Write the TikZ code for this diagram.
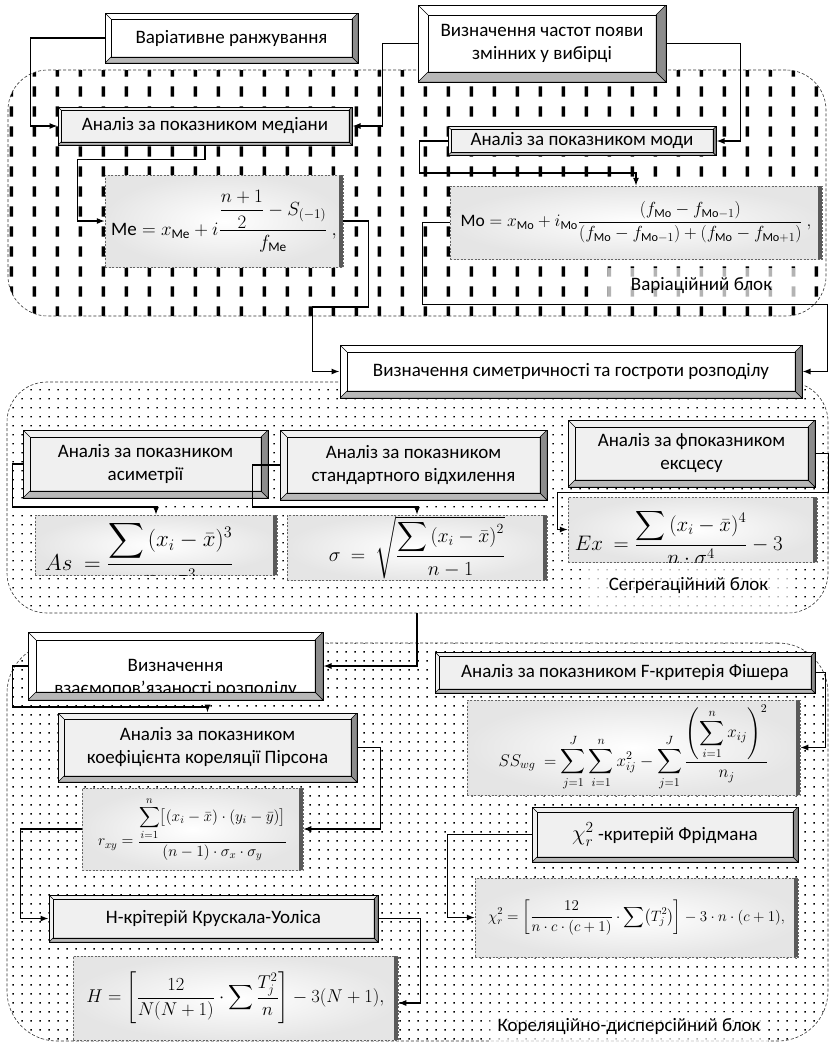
\RequirePackage{fix-cm}
\documentclass[tikz,border=0pt]{standalone}
\usepackage{amsmath}
\usepackage{fontspec}
\setmainfont{Carlito}
\usetikzlibrary{patterns,arrows.meta}

% fill patterns of the three blocks
\pgfdeclarepatternformonly{vbars}{\pgfpointorigin}{\pgfpoint{23.3pt}{19.5pt}}{\pgfpoint{23.3pt}{19.5pt}}%
  {\pgfpathrectangle{\pgfpoint{10pt}{4.5pt}}{\pgfpoint{3.4pt}{10.5pt}}\pgfusepath{fill}}
\pgfdeclarepatternformonly{sqdots}{\pgfpointorigin}{\pgfpoint{9.2pt}{9.2pt}}{\pgfpoint{9.2pt}{9.2pt}}%
  {\pgfpathrectangle{\pgfpoint{3.8pt}{3.8pt}}{\pgfpoint{1.6pt}{1.6pt}}\pgfusepath{fill}}

\newcommand\ppbox{path picture bounding box}
\newcommand\bevelfaces[1]{%
  \fill[black!28, draw=black, line width=0.4pt] (\ppbox.south west) -- (\ppbox.south east)
    -- ([shift={(-#1,#1)}]\ppbox.south east) -- ([shift={(#1,#1)}]\ppbox.south west) -- cycle;
  \fill[black!45, draw=black, line width=0.4pt] (\ppbox.south east) -- (\ppbox.north east)
    -- ([shift={(-#1,-#1)}]\ppbox.north east) -- ([shift={(-#1,#1)}]\ppbox.south east) -- cycle;
  \draw[line width=0.4pt] ([shift={(#1,#1)}]\ppbox.south west) rectangle ([shift={(-#1,-#1)}]\ppbox.north east);
  \draw[line width=0.4pt] (\ppbox.north west) -- ([shift={(#1,-#1)}]\ppbox.north west);
}
\newcommand\formulabar{%
  \fill[black!65] ([xshift=-4pt]\ppbox.north east) rectangle (\ppbox.south east);
}

\tikzset{
  boxfont/.style={font=\fontsize{19}{23}\selectfont},
  bevelbox/.style={draw=black, line width=1pt, inner sep=0pt, align=center, boxfont,
    path picture={\bevelfaces{#1}}},
  whitebox/.style={bevelbox=#1, fill=white},
  graybox/.style={bevelbox=#1, fill=gray!12},
  formulabox/.style={draw=black!60, line width=0.5pt, dash pattern=on 2pt off 1.5pt, inner sep=0pt,
    inner color=white, outer color=gray!20, path picture={\formulabar}},
  region/.style={draw=black!80, line width=0.6pt, dash pattern=on 3pt off 2pt,
    rounded corners=40pt, inner sep=0pt},
  blocklabel/.style={fill=white, fill opacity=0.7, text opacity=1, boxfont, inner sep=0pt},
  conn/.style={line width=1.1pt, -{Latex[length=8pt,width=6pt]}},
}

\begin{document}
\begin{tikzpicture}[x=1pt,y=-1pt]
  \useasboundingbox (0,0) rectangle (830,1042);

  % blocks
  \node[region, pattern=vbars, minimum width=818pt, minimum height=246pt] (varblock) at (417,193) {};
  \node[region, pattern=sqdots, minimum width=821pt, minimum height=231pt] (segblock) at (417.5,497.5) {};
  \node[region, rounded corners=50pt, pattern=sqdots, minimum width=821pt, minimum height=398pt] (corblock) at (417.5,842) {};

  \node[blocklabel, minimum width=187pt, minimum height=35pt] (varlabel) at (701.5,285.5) {Варіаційний блок};
  \node[blocklabel, minimum width=207pt, minimum height=42pt] (seglabel) at (688.5,586) {Сегрегаційний блок};
  \node[blocklabel, minimum width=278pt, minimum height=30pt] (corlabel) at (629,1027) {Кореляційно-дисперсійний блок};

  % variation block
  \node[whitebox=6pt, minimum width=253pt, minimum height=50pt] (rank) at (231.5,38) {Варіативне ранжування};
  \node[whitebox=10pt, minimum width=248pt, minimum height=77pt] (freq) at (542,43.5) {Визначення частот появи\\змінних у вибірці};
  \node[graybox=3pt, minimum width=294pt, minimum height=38pt] (median) at (205,126) {Аналіз за показником медіани};
  \node[graybox=3pt, minimum width=268pt, minimum height=29pt] (mode) at (582,141) {Аналіз за показником моди};

  \node[formulabox, minimum width=238pt, minimum height=92pt, font=\fontsize{19}{23}\selectfont] (fMe) at (224,221)
    {$\mathrm{Me}=x_{\mathrm{Me}}+i\dfrac{\dfrac{n+1}{2}-S_{(-1)}}{f_{\mathrm{Me}}}\ ,$};
  \node[formulabox, minimum width=372pt, minimum height=73pt, font=\fontsize{17.5}{21}\selectfont] (fMo) at (636,222.5)
    {$\mathrm{Mo}=x_{\mathrm{Mo}}+i_{\mathrm{Mo}}\dfrac{(f_{\mathrm{Mo}}-f_{\mathrm{Mo}-1})}{(f_{\mathrm{Mo}}-f_{\mathrm{Mo}-1})+(f_{\mathrm{Mo}}-f_{\mathrm{Mo}+1})}\ ,$};

  % segregation block
  \node[whitebox=7pt, minimum width=462pt, minimum height=53pt] (sym) at (571,371.5) {Визначення симетричності та гостроти розподілу};
  \node[graybox=7pt, minimum width=245pt, minimum height=68pt] (asym) at (145.5,464) {Аналіз за показником\\асиметрії};
  \node[graybox=7pt, minimum width=267pt, minimum height=70pt] (stdev) at (413.5,465) {Аналіз за показником\\стандартного відхилення};
  \node[graybox=7pt, minimum width=247pt, minimum height=67pt] (excess) at (691.5,453.5) {Аналіз за фпоказником\\ексцесу};

  \node[formulabox, minimum width=242pt, minimum height=60pt] (fAs) at (156,545) {};
  \begin{scope}
    \clip (fAs.south west) rectangle (fAs.north east);
    \node[anchor=base west, inner sep=0pt, font=\fontsize{23}{27}\selectfont] (fAstext) at ([shift={(10pt,-25pt)}]fAs.west)
      {$As\ =\dfrac{\displaystyle\sum\,(x_i-\bar{x})^3}{n\cdot\sigma^3}$};
  \end{scope}
  \node[formulabox, minimum width=260pt, minimum height=65pt, font=\fontsize{20}{24}\selectfont] (fSig) at (417,547.5)
    {$\sigma\ =\ \sqrt{\dfrac{\displaystyle\sum\,(x_i-\bar{x})^2}{n-1}}$};
  \node[formulabox, minimum width=249pt, minimum height=65pt] (fEx) at (692.5,529.5) {};
  \begin{scope}
    \clip (fEx.south west) rectangle (fEx.north east);
    \node[anchor=base west, inner sep=0pt, font=\fontsize{21}{25}\selectfont] (fExtext) at ([shift={(7pt,-21pt)}]fEx.west)
      {$Ex\ =\dfrac{\displaystyle\sum\,(x_i-\bar{x})^4}{n\cdot\sigma^4}-3$};
  \end{scope}

  % correlation-dispersion block
  \node[whitebox=8pt, minimum width=295pt, minimum height=68pt] (relat) at (175.5,666) {};
  \begin{scope}
    \clip ([shift={(8pt,8pt)}]relat.south west) rectangle ([shift={(-8pt,-8pt)}]relat.north east);
    \node[boxfont, align=center] (relattext) at ([yshift=-12pt]relat.center) {Визначення\\взаємопов’язаності розподілу};
  \end{scope}
  \node[graybox=4pt, minimum width=380pt, minimum height=41pt] (fisher) at (625,672.5) {Аналіз за показником F-критерія Фішера};
  \node[graybox=6pt, minimum width=299pt, minimum height=69pt] (pearson) at (207.5,747.5) {Аналіз за показником\\коефіцієнта кореляції Пірсона};
  \node[graybox=5pt, minimum width=266pt, minimum height=55pt] (fried) at (665,834.5) {{\fontsize{22}{24}\selectfont$\chi_r^2$} -критерій Фрідмана};
  \node[graybox=4pt, minimum width=329pt, minimum height=47pt] (kruskal) at (213.5,918.5) {Н-крітерій Крускала-Уоліса};

  \node[formulabox, minimum width=333pt, minimum height=95pt, font=\fontsize{17}{20}\selectfont] (fSS) at (633.5,747.5)
    {$\displaystyle SS_{wg}\ =\sum_{j=1}^{J}\sum_{i=1}^{n}x_{ij}^2-\sum_{j=1}^{J}\frac{\left(\displaystyle\sum_{i=1}^{n}x_{ij}\right)^2}{n_j}$};
  \node[formulabox, minimum width=221pt, minimum height=82pt, font=\fontsize{15.5}{19}\selectfont] (fR) at (192.5,829)
    {$\displaystyle r_{xy}=\frac{\displaystyle\sum_{i=1}^{n}\bigl[(x_i-\bar{x})\cdot(y_i-\bar{y})\bigr]}{(n-1)\cdot\sigma_x\cdot\sigma_y}$};
  \node[formulabox, minimum width=323pt, minimum height=79pt, font=\fontsize{15}{18}\selectfont] (fChi) at (636.5,917.5)
    {$\displaystyle \chi_r^2=\left[\frac{12}{n\cdot c\cdot(c+1)}\cdot\sum\bigl(T_j^2\bigr)\right]-3\cdot n\cdot(c+1),$};
  \node[formulabox, minimum width=325pt, minimum height=84pt, font=\fontsize{18.5}{22}\selectfont] (fH) at (235.5,998)
    {$\displaystyle H=\left[\frac{12}{N(N+1)}\cdot\sum\frac{T_j^2}{n}\right]-3(N+1),$};

  % connectors
  \draw[conn] (rank.west) -- ++(-74,0) |- (median.west);
  \draw[conn] (freq.west) -- ++(-35,0) |- (median.east);
  \draw[conn] (freq.east) -- ++(74,0) |- (mode.east);
  \draw[conn] (median.south) -- ++(0,14) -| ([xshift=-27pt]fMe.west) -- (fMe.west);
  \draw[conn] (mode.west) -- ++(-28,0) -- ++(0,32) -| (fMo.north);
  \draw[conn] (fMe.east) -- ++(25,0) -- ++(0,86) -- ++(-56,0) |- (sym.west);
  \draw[conn] (fMo.west) -- ++(-27,0) -- ++(0,82) -- ++(405,0) |- (sym.east);

  \draw[conn] (asym.west) -- ++(-10,0) -- ++(0,43) -| (fAs.north);
  \draw[conn] (stdev.west) -- ++(-27,0) -- ++(0,42) -| (fSig.north);
  \draw[conn] (excess.east) -- ++(13,0) -- ++(0,39) -| ([xshift=-10pt]fEx.west) -- (fEx.west);
  \draw[conn] (fSig.south |- segblock.south) |- (relat.east);

  \draw[conn] (relat.west) -- ++(-15,0) -- ++(0,41) -| (pearson.north);
  \draw[conn] (pearson.east) -- ++(23,0) |- (fR.east);
  \draw[conn] (fR.west) -- ++(-61,0) |- (kruskal.west);
  \draw[conn] (kruskal.east) -- ++(42,0) |- ([yshift=-5pt]fH.east);
  \draw[conn] (fisher.east) -- ++(10,0) |- (fSS.east);
  \draw[conn] (fried.west) -- ++(-84,0) |- (fChi.west);
\end{tikzpicture}
\end{document}
